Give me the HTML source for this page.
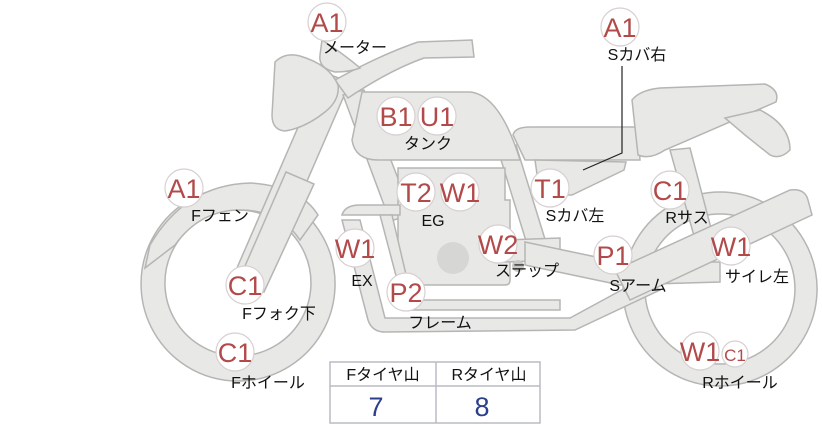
<!DOCTYPE html>
<html><head><meta charset="utf-8"><style>
html,body{margin:0;padding:0;background:#fff;}
svg{display:block;}
.s{fill:#e8e8e6;stroke:#b5b5b3;stroke-width:1.5;}
.b{fill:#fff;stroke:#d8d0d0;stroke-width:1.2;}
.bt{fill:#b34a4a;font-family:"Liberation Sans",sans-serif;font-size:27px;text-anchor:middle;}
.l{fill:#111;font-family:"Liberation Sans","Noto Sans CJK JP",sans-serif;font-size:16px;text-anchor:middle;}
</style></head><body>
<svg width="822" height="425" viewBox="0 0 822 425" xmlns="http://www.w3.org/2000/svg">
<!-- front wheel -->
<path class="s" fill-rule="evenodd" d="M238,187 a97,97 0 1,0 0.1,0 Z M238,210 a73,73 0 1,1 -0.1,0 Z"/>
<path class="s" d="M145,268 L150,245 Q185,185 250,183 Q300,186 318,215 L300,240 Q280,210 240,210 Q200,210 175,245 Z"/>
<!-- rear wheel -->
<path class="s" fill-rule="evenodd" d="M720,192 a97,97 0 1,0 0.1,0 Z M720,214 a75,75 0 1,1 -0.1,0 Z"/>
<!-- fork -->
<path class="s" d="M322,72 L350,82 L258,294 L230,284 Z"/>
<path class="s" d="M286,172 L314,184 L264,292 L238,282 Z"/>
<!-- frame tubes -->
<path class="s" d="M343,95 L364,90 L412,215 L390,221 Z"/>
<path class="s" d="M498,150 L516,145 L552,262 L534,267 Z"/>
<!-- handlebar -->
<path class="s" d="M335,80 Q380,55 418,42 L472,40 L474,57 L424,58 Q390,70 348,98 Z"/>
<!-- meter -->
<path class="s" d="M322,40 Q345,55 360,68 Q350,72 335,72 Q318,68 320,55 Z"/>
<!-- headlight -->
<path class="s" d="M275,62 Q285,52 300,56 Q330,65 338,85 Q340,100 325,112 Q305,128 285,131 Q272,130 272,115 Z"/>
<!-- tank -->
<path class="s" d="M362,92 L470,92 Q500,95 520,160 L378,160 Q355,160 352,140 Z"/>
<!-- engine -->
<path class="s" d="M398,168 L505,168 L505,200 L510,200 L510,280 Q510,285 505,285 L405,285 Q398,285 398,278 Z"/>
<circle cx="453" cy="258" r="16" fill="#d6d6d4"/>
<!-- exhaust -->
<path class="s" d="M342,215 Q345,205 360,205 L400,205 L400,215 L360,215 Z"/>
<!-- frame bottom -->
<path class="s" d="M342,220 L360,220 L385,318 L570,318 L640,280 L660,290 L575,330 L385,332 Q372,332 368,320 Z"/>
<path class="s" d="M380,215 L392,215 L412,300 L560,300 L560,310 L405,310 Z"/>
<!-- step -->
<path class="s" d="M505,240 L560,238 L560,260 L505,262 Z"/>
<circle cx="518" cy="266" r="6" fill="#c8c8c6"/><circle cx="552" cy="264" r="6" fill="#c8c8c6"/>
<!-- swing arm -->
<path class="s" d="M525,242 L620,262 L720,262 L720,282 L620,285 L525,265 Z"/>
<!-- rear shock -->
<path class="s" d="M670,150 L690,148 L712,232 L694,236 Z"/>
<!-- rear fender / silencer -->
<path class="s" d="M615,270 L790,190 Q805,188 808,200 L812,215 L630,300 Z"/>
<!-- seat -->
<path class="s" d="M513,135 Q515,127 530,127 L638,127 L640,160 L525,160 Z"/>
<!-- side cover -->
<path class="s" d="M535,160 L626,162 L624,170 L572,195 L540,195 Z"/>
<!-- rear cowl -->
<path class="s" d="M632,100 Q640,90 660,88 L765,84 Q780,90 776,102 L665,150 Q650,160 638,155 Z"/>
<path class="s" d="M725,118 L760,110 Q790,125 790,150 Q780,160 770,155 L745,135 Z"/>
<!-- leader line -->
<path d="M622,66 L622,153 L583,170" fill="none" stroke="#222" stroke-width="1.2"/>
<!-- table -->
<rect x="330" y="362" width="210" height="61" fill="#fff" stroke="#b9bcc4" stroke-width="1.5"/>
<line x1="330" y1="386" x2="540" y2="386" stroke="#b9bcc4" stroke-width="1.5"/>
<line x1="436" y1="362" x2="436" y2="423" stroke="#b9bcc4" stroke-width="1.5"/>
<text x="383" y="380" class="l">Fタイヤ山</text>
<text x="489" y="380" class="l">Rタイヤ山</text>
<text x="376" y="416" fill="#2b3f8a" font-family="Liberation Sans,sans-serif" font-size="27" text-anchor="middle">7</text>
<text x="482" y="416" fill="#2b3f8a" font-family="Liberation Sans,sans-serif" font-size="27" text-anchor="middle">8</text>
<!-- badges -->
<g>
<circle class="b" cx="327" cy="22" r="19"/><text class="bt" x="327" y="32">A1</text>
<circle class="b" cx="620" cy="27" r="19"/><text class="bt" x="620" y="37">A1</text>
<circle class="b" cx="396" cy="116" r="19"/><text class="bt" x="396" y="126">B1</text>
<circle class="b" cx="437" cy="116" r="19"/><text class="bt" x="437" y="126">U1</text>
<circle class="b" cx="184" cy="188" r="19"/><text class="bt" x="184" y="198">A1</text>
<circle class="b" cx="416" cy="192" r="19"/><text class="bt" x="416" y="202">T2</text>
<circle class="b" cx="460" cy="192" r="19"/><text class="bt" x="460" y="202">W1</text>
<circle class="b" cx="550" cy="188" r="19"/><text class="bt" x="550" y="198">T1</text>
<circle class="b" cx="670" cy="190" r="19"/><text class="bt" x="670" y="200">C1</text>
<circle class="b" cx="355" cy="248" r="19"/><text class="bt" x="355" y="258">W1</text>
<circle class="b" cx="498" cy="244" r="19"/><text class="bt" x="498" y="254">W2</text>
<circle class="b" cx="613" cy="255" r="19"/><text class="bt" x="613" y="265">P1</text>
<circle class="b" cx="731" cy="246" r="19"/><text class="bt" x="731" y="256">W1</text>
<circle class="b" cx="245" cy="285" r="19"/><text class="bt" x="245" y="295">C1</text>
<circle class="b" cx="406" cy="292" r="19"/><text class="bt" x="406" y="302">P2</text>
<circle class="b" cx="235" cy="352" r="19"/><text class="bt" x="235" y="362">C1</text>
<circle class="b" cx="700" cy="351" r="19"/><text class="bt" x="700" y="361">W1</text>
<circle class="b" cx="735" cy="354" r="13"/><text class="bt" x="735" y="361" style="font-size:17px">C1</text>
</g>
<text class="l" x="355" y="53">メーター</text>
<text class="l" x="637" y="60">Sカバ右</text>
<text class="l" x="428" y="149">タンク</text>
<text class="l" x="220" y="221">Fフェン</text>
<text class="l" x="433" y="226">EG</text>
<text class="l" x="575" y="221">Sカバ左</text>
<text class="l" x="687" y="223">Rサス</text>
<text class="l" x="362" y="286">EX</text>
<text class="l" x="527" y="276">ステップ</text>
<text class="l" x="638" y="291">Sアーム</text>
<text class="l" x="757" y="282">サイレ左</text>
<text class="l" x="279" y="319">Fフォク下</text>
<text class="l" x="440" y="328">フレーム</text>
<text class="l" x="268" y="388">Fホイール</text>
<text class="l" x="740" y="388">Rホイール</text>
</svg>
</body></html>
